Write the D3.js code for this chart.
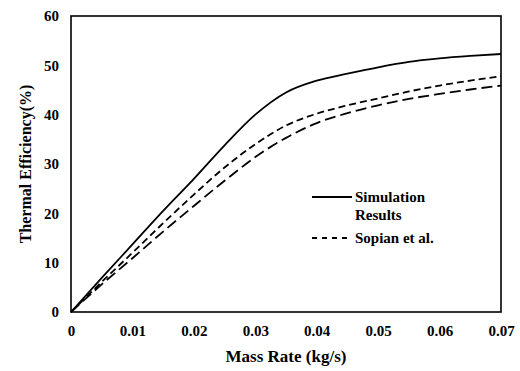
<!DOCTYPE html>
<html>
<head>
<meta charset="utf-8">
<script src="https://cdn.jsdelivr.net/npm/d3@7"></script>
<style>
  body { margin: 0; background: #fff; }
  text { font-family: "Liberation Serif", "Times New Roman", serif; font-weight: bold; fill: #000; }
</style>
</head>
<body>
<div id="chart"></div>
<script>
// mass rate (kg/s)
const massRate = [0, 0.005, 0.01, 0.015, 0.02, 0.025, 0.03, 0.035, 0.04, 0.045, 0.05, 0.055, 0.06, 0.065, 0.07];
// thermal efficiency (%)
const simulation = [0, 6.9, 13.7, 20.5, 27.0, 33.8, 40.0, 44.5, 46.9, 48.3, 49.6, 50.7, 51.4, 51.9, 52.3];
const sopian = [0, 6.1, 12.0, 18.0, 23.8, 29.3, 34.0, 37.8, 40.2, 41.9, 43.3, 44.7, 45.9, 46.9, 47.8];
const sopian2 = [0, 5.6, 10.9, 16.3, 21.5, 26.6, 31.4, 35.3, 38.3, 40.3, 41.9, 43.2, 44.2, 45.1, 45.9];
const xTicks = [0, 0.01, 0.02, 0.03, 0.04, 0.05, 0.06, 0.07];
const yTicks = [0, 10, 20, 30, 40, 50, 60];

const W = 520, H = 371;
const margin = { top: 16, right: 19, bottom: 59, left: 71 };
const width = W - margin.left - margin.right,
      height = H - margin.top - margin.bottom;

const svg = d3.select("#chart").append("svg")
  .attr("width", W)
  .attr("height", H);

const g = svg.append("g")
  .attr("transform", "translate(" + margin.left + "," + margin.top + ")");

const x = d3.scaleLinear().domain([0, 0.07]).range([0, width]);
const y = d3.scaleLinear().domain([0, 60]).range([height, 0]);

// axes (no tick marks, just labels)
const xAxis = g.append("g")
  .attr("transform", "translate(0," + height + ")")
  .call(d3.axisBottom(x).tickValues(xTicks).tickSize(0).tickPadding(13)
    .tickFormat(d => d === 0 ? "0" : d3.format(".2f")(d)));
const yAxis = g.append("g")
  .call(d3.axisLeft(y).tickValues(yTicks).tickSize(0).tickPadding(12));
[xAxis, yAxis].forEach(a => {
  a.select(".domain").remove();
  a.selectAll("text").style("font-size", "15px")
    .style("font-family", "'Liberation Serif', serif").style("font-weight", "bold");
});

// frame
g.append("rect")
  .attr("width", width)
  .attr("height", height)
  .attr("fill", "none")
  .attr("stroke", "#000")
  .attr("stroke-width", 1.6);

const line = d3.line()
  .x((d, i) => x(massRate[i]))
  .y(d => y(d))
  .curve(d3.curveMonotoneX);

const series = [
  { values: simulation, dash: null },
  { values: sopian, dash: "7,4" },
  { values: sopian2, dash: "11,5" }
];

g.selectAll(".series")
  .data(series)
  .enter().append("path")
  .attr("class", "series")
  .attr("fill", "none")
  .attr("stroke", "#000")
  .attr("stroke-width", 1.8)
  .attr("stroke-dasharray", d => d.dash)
  .attr("d", d => line(d.values));

// legend
const legend = svg.append("g").attr("transform", "translate(312,197)");
legend.append("line").attr("x1", 0).attr("x2", 40).attr("y1", 0).attr("y2", 0)
  .attr("stroke", "#000").attr("stroke-width", 1.8);
legend.append("text").attr("x", 43).attr("y", 5).style("font-size", "15px").text("Simulation");
legend.append("text").attr("x", 43).attr("y", 23).style("font-size", "15px").text("Results");
legend.append("line").attr("x1", 0).attr("x2", 40).attr("y1", 41).attr("y2", 41)
  .attr("stroke", "#000").attr("stroke-width", 1.8).attr("stroke-dasharray", "5,5");
legend.append("text").attr("x", 43).attr("y", 46).style("font-size", "15px").text("Sopian et al.");

// axis titles
svg.append("text")
  .attr("x", margin.left + width / 2)
  .attr("y", 362)
  .attr("text-anchor", "middle")
  .style("font-size", "17px")
  .text("Mass Rate (kg/s)");

svg.append("text")
  .attr("transform", "translate(31," + (margin.top + height / 2) + ") rotate(-90)")
  .attr("text-anchor", "middle")
  .style("font-size", "16px")
  .text("Thermal Efficiency(%)");
</script>
</body>
</html>
